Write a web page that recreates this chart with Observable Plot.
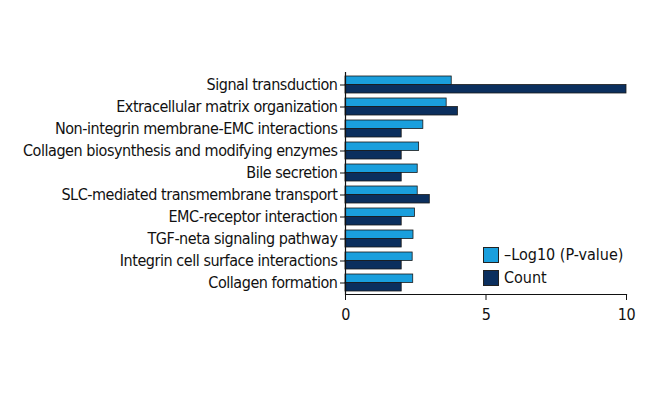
<!DOCTYPE html>
<html>
<head>
<meta charset="utf-8">
<script src="https://cdn.jsdelivr.net/npm/d3@7"></script>
<script src="https://cdn.jsdelivr.net/npm/@observablehq/plot@0.6"></script>
<style>
  html, body { margin: 0; padding: 0; background: #fff; }
  #wrap { position: relative; width: 660px; height: 400px; font-family: "Liberation Sans Narrow", "DejaVu Sans Condensed", sans-serif; }
  #wrap svg text { letter-spacing: -0.45px; }
  #legend { position: absolute; left: 483px; top: 243px; font-size: 16px; line-height: 23px; color: #111; }
  #legend .row { display: flex; align-items: center; }
  #legend .sw { width: 14px; height: 14px; border: 1px solid #222; margin-right: 5px; }
</style>
</head>
<body>
<div id="wrap"></div>
<script>
const categories = [
  "Signal transduction",
  "Extracellular matrix organization",
  "Non-integrin membrane-EMC interactions",
  "Collagen biosynthesis and modifying enzymes",
  "Bile secretion",
  "SLC-mediated transmembrane transport",
  "EMC-receptor interaction",
  "TGF-neta signaling pathway",
  "Integrin cell surface interactions",
  "Collagen formation"
];
const logP = [3.78, 3.6, 2.77, 2.62, 2.57, 2.57, 2.47, 2.42, 2.39, 2.41];
const counts = [10, 4, 2, 2, 2, 3, 2, 2, 2, 2];
const seriesNames = ["\u2013Log10 (P-value)", "Count"];
const seriesColors = ["#1a9fdd", "#0b2f5e"];
const xTicks = [0, 5, 10];

const rowsP = categories.map((c, i) => ({category: c, value: logP[i]}));
const rowsC = categories.map((c, i) => ({category: c, value: counts[i]}));

const W = 660, H = 400, mt = 72, mb = 106;
const step = (H - mt - mb) / (categories.length - 0.25);
const half = step * 0.75 / 2;

const chart = Plot.plot({
  width: W,
  height: H,
  marginLeft: 345,
  marginRight: 34,
  marginTop: mt,
  marginBottom: mb,
  style: {fontFamily: "'Liberation Sans Narrow', 'DejaVu Sans Condensed', sans-serif", fontSize: "16px", color: "#111", background: "#fff"},
  x: {domain: [0, 10], ticks: xTicks},
  y: {domain: categories, paddingInner: 0.25, paddingOuter: 0},
  marks: [
    Plot.barX(rowsP, {y: "category", x: "value", fill: seriesColors[0], stroke: "#1a1a1a", strokeWidth: 0.8, insetBottom: half}),
    Plot.barX(rowsC, {y: "category", x: "value", fill: seriesColors[1], stroke: "#1a1a1a", strokeWidth: 0.8, insetTop: half}),
    Plot.axisY({tickSize: 5, tickPadding: 3, label: null}),
    Plot.axisX({ticks: xTicks, tickSize: 6, tickPadding: 8, label: null, tickFormat: d3.format("d")}),
    Plot.ruleX([0], {stroke: "#111", strokeWidth: 1.2}),
    Plot.frame({anchor: "bottom", stroke: "#111", strokeWidth: 1.2})
  ]
});

const wrap = document.getElementById("wrap");
wrap.appendChild(chart);
const legend = document.createElement("div");
legend.id = "legend";
seriesNames.forEach((n, i) => {
  const r = document.createElement("div");
  r.className = "row";
  const s = document.createElement("span");
  s.className = "sw";
  s.style.background = seriesColors[i];
  const t = document.createElement("span");
  t.textContent = n;
  r.appendChild(s); r.appendChild(t);
  legend.appendChild(r);
});
wrap.appendChild(legend);
</script>
</body>
</html>
